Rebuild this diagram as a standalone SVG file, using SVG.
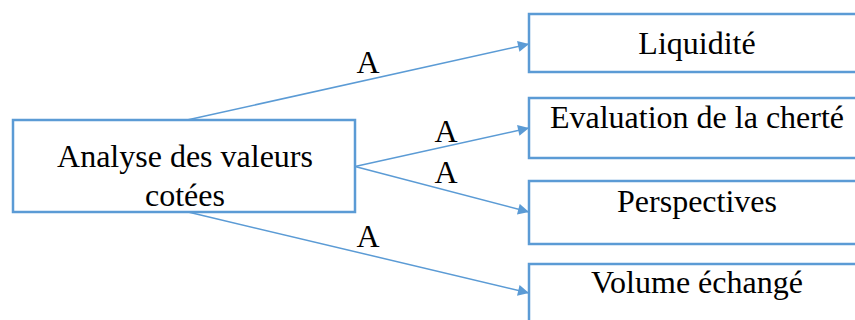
<svg xmlns="http://www.w3.org/2000/svg" width="855" height="320" viewBox="0 0 855 320">
<defs>
<marker id="arr" viewBox="0 0 10 10" refX="10" refY="5" markerWidth="15" markerHeight="11" markerUnits="userSpaceOnUse" orient="auto">
<path d="M0,0 L10,5 L0,10 z" fill="#5B9BD5"/>
</marker>
<style>
.box{fill:#fff;stroke:#5B9BD5;stroke-width:2.5}
.t{font-family:"Liberation Serif","Times New Roman",serif;font-size:32px;fill:#000;text-anchor:middle}
.c{stroke:#5B9BD5;stroke-width:1.5;fill:none;marker-end:url(#arr)}
</style>
</defs>
<rect width="855" height="320" fill="#fff"/>
<g id="connectors">
<line class="c" x1="187" y1="120" x2="529" y2="44"/>
<line class="c" x1="355" y1="166.5" x2="529" y2="128"/>
<line class="c" x1="355" y1="166.5" x2="529" y2="212"/>
<line class="c" x1="188" y1="212" x2="529" y2="293"/>
<text class="t" x="368" y="73">A</text>
<text class="t" x="446" y="142">A</text>
<text class="t" x="446" y="183">A</text>
<text class="t" x="368" y="247">A</text>
</g>
<g id="analyse">
<rect class="box" x="13" y="120" width="342" height="92"/>
<text class="t" x="185" y="167">Analyse des valeurs</text>
<text class="t" x="185" y="206">cotées</text>
</g>
<g id="liquidite">
<rect class="box" x="529" y="14" width="340" height="58"/>
<text class="t" x="697" y="54">Liquidité</text>
</g>
<g id="evaluation">
<rect class="box" x="529" y="98" width="340" height="60"/>
<text class="t" x="697" y="128">Evaluation de la cherté</text>
</g>
<g id="perspectives">
<rect class="box" x="529" y="181" width="340" height="63"/>
<text class="t" x="697" y="212">Perspectives</text>
</g>
<g id="volume">
<rect class="box" x="529" y="264" width="340" height="70"/>
<text class="t" x="697" y="293">Volume échangé</text>
</g>
</svg>
